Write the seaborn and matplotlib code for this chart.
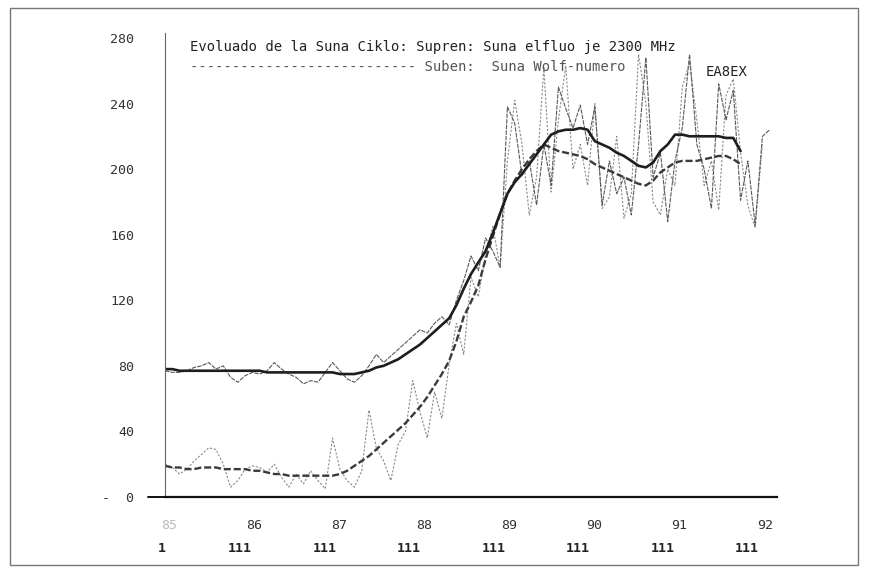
import matplotlib
matplotlib.use("Agg")
import matplotlib.pyplot as plt
import matplotlib.patches as patches
import seaborn as sns
import numpy as np
import pandas as pd

nan = np.nan

# mesaj monatoj: 0 = jan 1985 ... 83 = dec 1991
months = np.arange(84)

# Suna elfluo je 2300 MHz, monataj valoroj
flux_raw = [77, 76, 76, 77, 79, 80, 82, 78, 80, 73,
            70, 74, 76, 75, 77, 82, 78, 75, 73, 69,
            71, 70, 76, 82, 77, 72, 70, 74, 80, 87,
            82, 86, 90, 94, 98, 102, 100, 106, 110, 105,
            120, 132, 147, 138, 158, 150, 140, 238, 228, 196,
            205, 178, 215, 190, 250, 237, 225, 239, 215, 238,
            178, 205, 185, 195, 172, 215, 268, 195, 210, 168,
            205, 225, 270, 215, 200, 176, 252, 230, 248, 181,
            205, 166, 220, 224]

# glatigita elfluo
flux_smooth = [78, 78, 77, 77, 77, 77, 77, 77, 77, 77,
               77, 77, 77, 77, 76, 76, 76, 76, 76, 76,
               76, 76, 76, 76, 75, 75, 75, 76, 77, 79,
               80, 82, 84, 87, 90, 93, 97, 101, 105, 109,
               117, 127, 136, 143, 150, 161, 173, 185, 192, 197,
               203, 209, 215, 221, 223, 224, 224, 225, 224, 217,
               215, 213, 210, 208, 205, 202, 201, 204, 211, 215,
               221, 221, 220, 220, 220, 220, 220, 219, 219, 211,
               nan, nan, nan, nan]

# Suna Wolf-numero, monataj valoroj
spot_raw = [20, 18, 14, 17, 22, 26, 30, 29, 20, 6,
            10, 17, 19, 18, 15, 20, 12, 6, 14, 8,
            16, 10, 5, 36, 17, 10, 6, 16, 53, 30,
            22, 10, 32, 40, 71, 52, 36, 64, 48, 81,
            106, 87, 134, 122, 148, 165, 140, 205, 242, 215,
            172, 195, 262, 186, 230, 263, 200, 215, 190, 240,
            176, 183, 220, 170, 185, 270, 240, 180, 172, 200,
            190, 250, 265, 230, 190, 205, 175, 245, 255, 210,
            178, 164, 215, nan]

# glatigita Wolf-numero
spot_smooth = [19, 18, 18, 17, 17, 18, 18, 18, 17, 17,
               17, 17, 16, 16, 15, 14, 14, 13, 13, 13,
               13, 13, 13, 13, 14, 16, 19, 22, 25, 29,
               33, 37, 41, 45, 50, 55, 61, 68, 75, 83,
               95, 110, 119, 129, 145, 159, 173, 185, 193, 200,
               206, 211, 215, 213, 211, 210, 209, 208, 206, 203,
               201, 199, 197, 195, 193, 191, 190, 193, 198, 201,
               204, 205, 205, 205, 206, 207, 208, 208, 206, 203,
               nan, nan, nan, nan]

y_ticks = [0, 40, 80, 120, 160, 200, 240, 280]
y_labels = ['-  0', '40', '80', '120', '160', '200', '240', '280']
year_labels = ['85', '86', '87', '88', '89', '90', '91', '92']
sub_labels = ['1', '111', '111', '111', '111', '111', '111', '111']

title_1 = "Evoluado de la Suna Ciklo: Supren: Suna elfluo je 2300 MHz"
title_2 = "-" * 27 + " Suben:  Suna Wolf-numero"
signature = "EA8EX"

sns.set_style("white")
plt.rcParams['font.family'] = ['DejaVu Sans Mono', 'DejaVu Sans']

W, H = 874, 573
fig = plt.figure(figsize=(W / 100, H / 100), dpi=100)
ax = fig.add_axes([165 / W, 1 - 497 / H, 612 / W, 464 / H])

df = pd.DataFrame({'m': months, 'flux_raw': flux_raw, 'flux_smooth': flux_smooth,
                   'spot_raw': spot_raw, 'spot_smooth': spot_smooth})

# monataj kurboj (maldikaj, grizaj)
sns.lineplot(data=df, x='m', y='spot_raw', ax=ax, color='#8a8a8a', lw=0.8,
             linestyle=(0, (2, 1.5)))
sns.lineplot(data=df, x='m', y='flux_raw', ax=ax, color='#5a5a5a', lw=0.8,
             linestyle=(0, (4, 1)))
# glatigitaj kurboj (dikaj)
sns.lineplot(data=df, x='m', y='spot_smooth', ax=ax, color='#3a3a3a', lw=1.7,
             linestyle=(0, (3, 1.2)))
sns.lineplot(data=df, x='m', y='flux_smooth', ax=ax, color='#1e1e1e', lw=1.9)

ax.set_xlim(0, 84)
ax.set_ylim(0, 283)
ax.set_xlabel('')
ax.set_ylabel('')

ax.set_yticks(y_ticks)
ax.set_yticklabels(y_labels)
year_pos = 0.55 + np.arange(len(year_labels)) * 11.68
ax.set_xticks(year_pos)
ax.set_xticklabels(year_labels)
ax.tick_params(axis='y', length=0, pad=22, labelsize=9.5, labelcolor='#333333')
ax.tick_params(axis='x', length=0, pad=16, labelsize=9.5, labelcolor='#333333')
ax.get_xticklabels()[0].set_color('#bbbbbb')

# dua vico sub la jaroj
sub_pos = [-0.4] + list(10.3 + np.arange(7) * 11.6)
for xp, lab in zip(sub_pos, sub_labels):
    ax.text(xp, -0.11, lab, transform=ax.get_xaxis_transform(), ha='center',
            va='center', fontsize=9.5, color='#222222', fontweight='bold')

for s in ['top', 'right']:
    ax.spines[s].set_visible(False)
ax.spines['left'].set_color('#666666')
ax.spines['left'].set_linewidth(0.8)
ax.spines['bottom'].set_color('#111111')
ax.spines['bottom'].set_linewidth(1.6)
ax.axhline(0, xmin=-0.028, xmax=0, color='#111111', lw=1.4, clip_on=False)

fig.text(190 / W, 1 - 47 / H, title_1, fontsize=10, va='center', color='#222222')
fig.text(190 / W, 1 - 67 / H, title_2, fontsize=10, va='center', color='#555555')
fig.text(706 / W, 1 - 72 / H, signature, fontsize=10, va='center', color='#222222')

# rando de la papero
fig.patches.append(patches.Rectangle((10 / W, 8 / H), 848 / W, 557 / H,
                                     transform=fig.transFigure, fill=False,
                                     ec='#777777', lw=1.0))

fig.savefig('out.png', dpi=100, facecolor='white')
